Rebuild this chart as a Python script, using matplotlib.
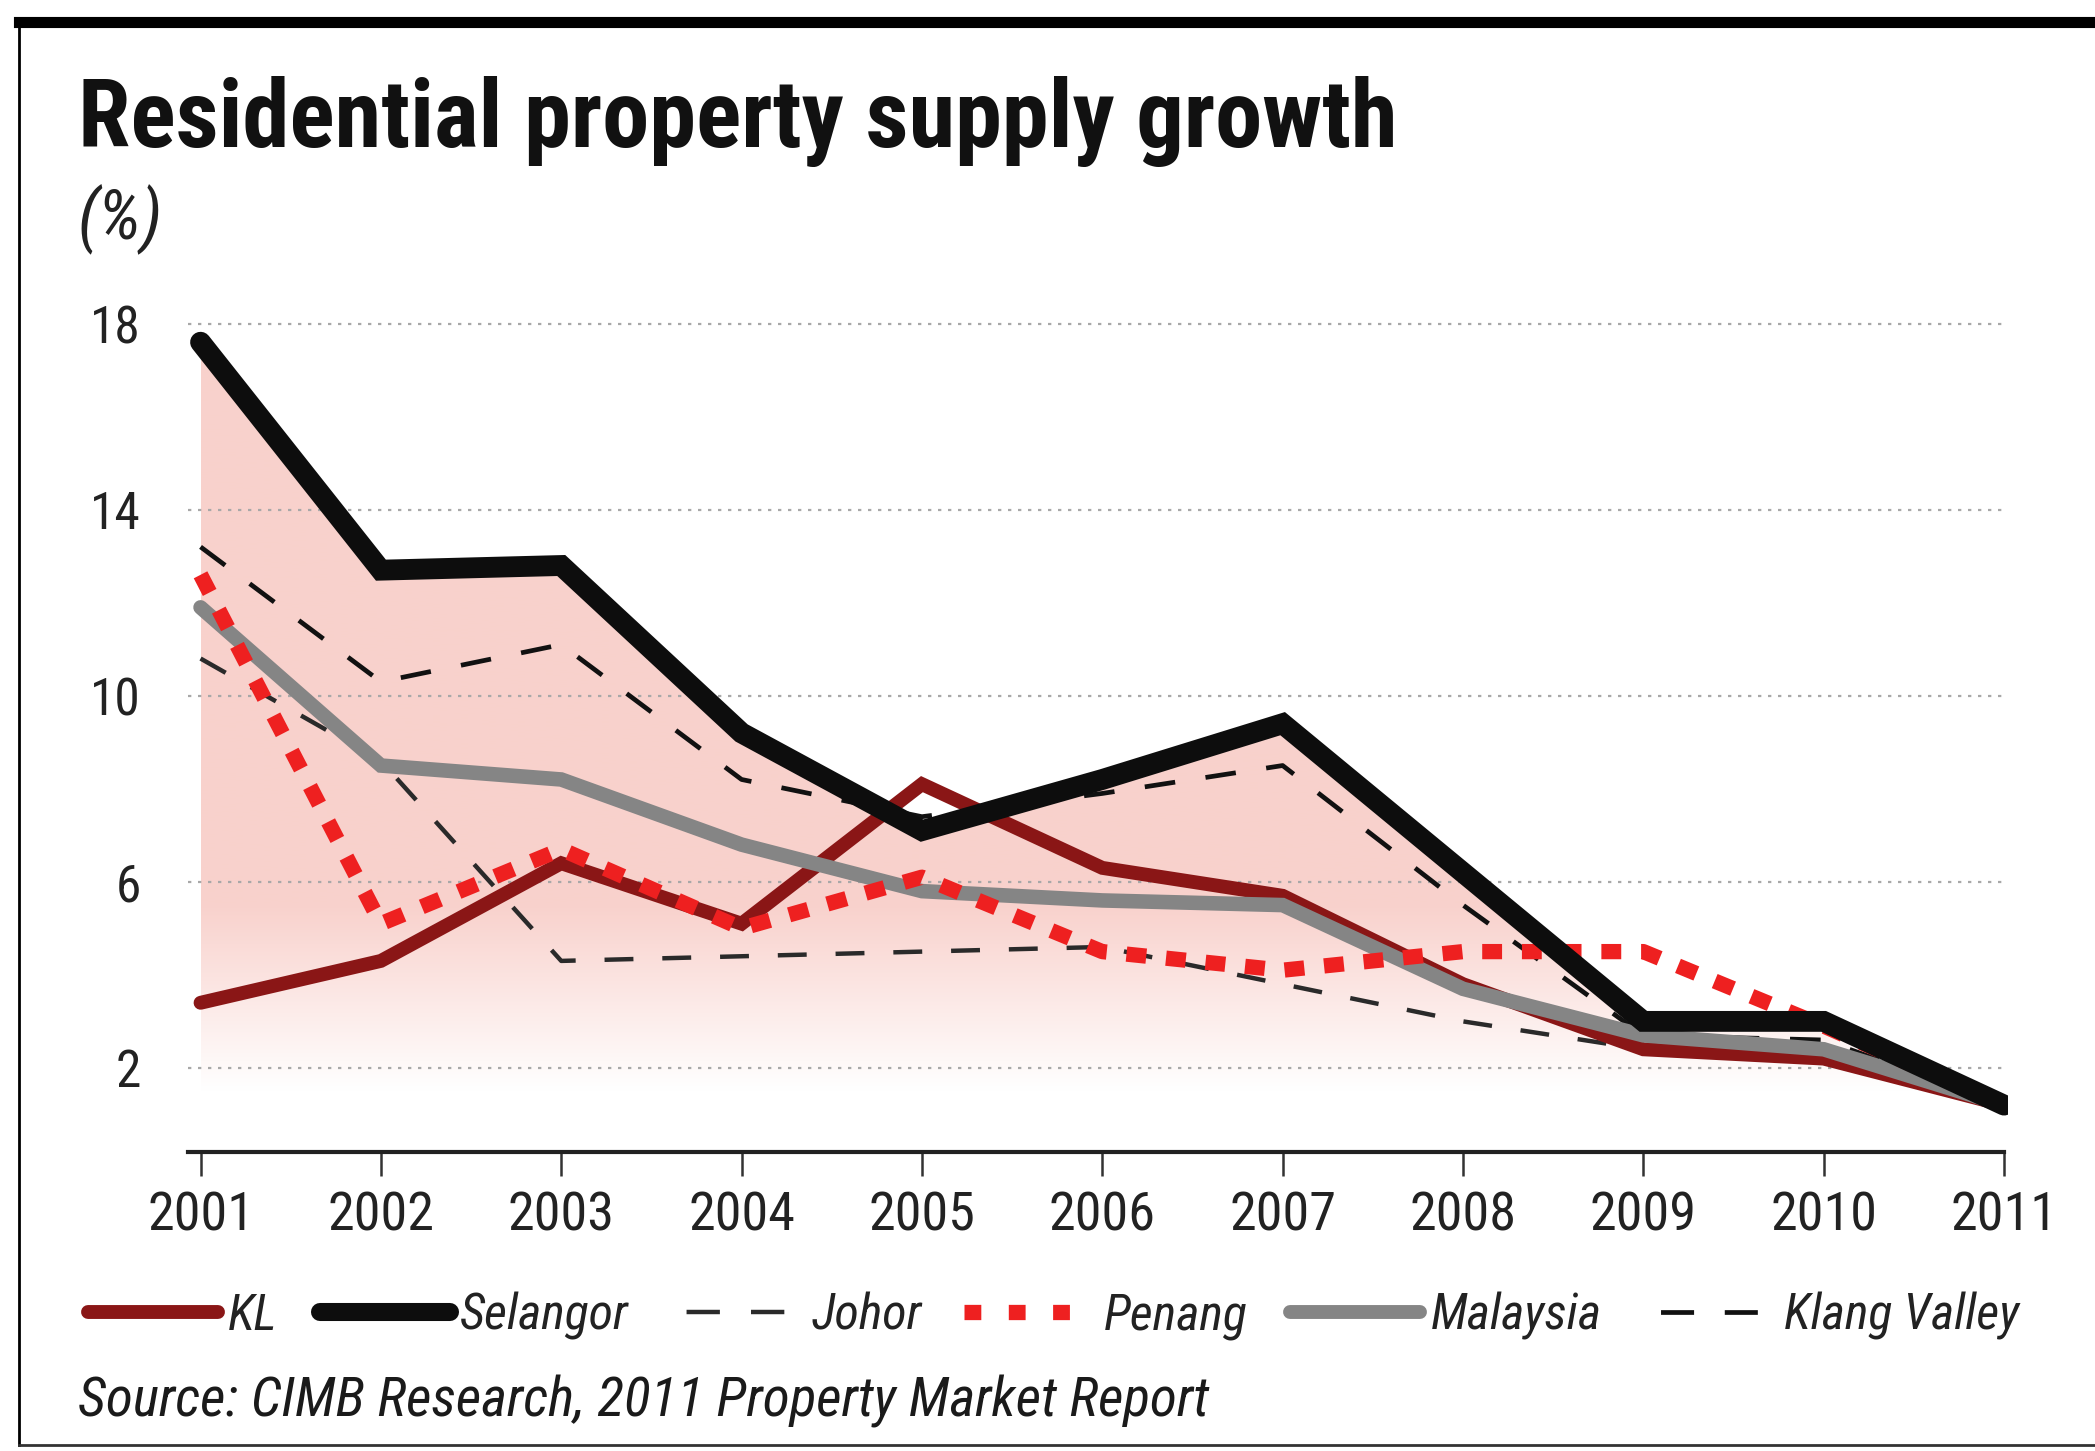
import numpy as np
import matplotlib
matplotlib.use('Agg')
import matplotlib.pyplot as plt
from matplotlib.lines import Line2D
from matplotlib.patches import Polygon

# data (%)
years = [2001, 2002, 2003, 2004, 2005, 2006, 2007, 2008, 2009, 2010, 2011]
kl = [3.4, 4.3, 6.4, 5.1, 8.1, 6.3, 5.7, 3.8, 2.4, 2.2, 1.2]
selangor = [17.6, 12.7, 12.8, 9.2, 7.1, 8.2, 9.4, 6.2, 3.0, 3.0, 1.2]
johor = [10.8, 8.6, 4.3, 4.4, 4.5, 4.6, 3.8, 3.0, 2.4, 2.2, 1.2]
penang = [12.6, 5.1, 6.7, 5.0, 6.1, 4.5, 4.1, 4.5, 4.5, 2.9, 1.2]
malaysia = [11.9, 8.5, 8.2, 6.8, 5.8, 5.6, 5.5, 3.7, 2.7, 2.4, 1.2]
klang_valley = [13.2, 10.3, 11.1, 8.2, 7.4, 7.9, 8.5, 5.5, 2.7, 2.6, 1.2]
y_ticks = [2, 6, 10, 14, 18]

FONT = ['Roboto Condensed', 'Roboto', 'DejaVu Sans']
plt.rcParams['font.family'] = FONT


def main():
    fig = plt.figure(figsize=(20.95, 14.51), dpi=100)
    ax = fig.add_axes([0.0897, 0.206, 0.8686, 0.587])
    ax.set_xlim(2000.93, 2011.02)
    ax.set_ylim(0.19, 18.5)

    # pink shaded area under Selangor, fading to white at the bottom
    base = 1.0
    verts = list(zip(years, selangor)) + [(years[-1], base), (years[0], base)]
    poly = Polygon(verts, closed=True, facecolor='none', edgecolor='none')
    ax.add_patch(poly)
    yy = np.linspace(18, base, 400)
    t = np.clip((yy - 1.5) / 4.0, 0, 1)[:, None]
    pink = np.array([0.975, 0.82, 0.80])
    grad = (1 - t) * np.ones(3) + t * pink
    img = ax.imshow(grad[:, None, :], extent=[years[0], years[-1], base, 18],
                    aspect='auto', zorder=1, interpolation='bilinear')
    img.set_clip_path(poly)

    # dotted gridlines
    ax.hlines(y_ticks, 2000.93, 2011, colors='#a8a8a8', linestyles=(0, (1.5, 3)),
              linewidth=1.6, zorder=2)

    ax.plot(years, johor, color='#2a2a2a', lw=3.2, ls=(0, (6.5, 6.5)), zorder=3)
    ax.plot(years, klang_valley, color='#111111', lw=3.4, ls=(0, (6.5, 6.5)), zorder=3)
    ax.plot(years, kl, color='#8a1616', lw=10, solid_capstyle='round',
            solid_joinstyle='miter', zorder=4)
    ax.plot(years, malaysia, color='#858585', lw=10.5, solid_capstyle='round',
            solid_joinstyle='miter', zorder=5)
    ax.plot(years, penang, color='#ee2020', lw=11, ls=(0, (1.3, 1.3)),
            dash_capstyle='butt', zorder=6)
    ax.plot(years, selangor, color='#0d0d0d', lw=15, solid_capstyle='round',
            solid_joinstyle='miter', zorder=7)

    # axes styling
    for s in ['top', 'right', 'left']:
        ax.spines[s].set_visible(False)
    ax.spines['bottom'].set_linewidth(3)
    ax.spines['bottom'].set_color('#222222')
    ax.spines['bottom'].set_bounds(2000.93, 2011)
    ax.set_xticks(years)
    ax.set_yticks(y_ticks)
    ax.tick_params(axis='x', direction='out', length=17, width=1.8, colors='#333333',
                   labelsize=39, pad=11, labelcolor='#222222')
    ax.tick_params(axis='y', length=0, labelsize=37, pad=34, labelcolor='#222222')
    ax.patch.set_visible(False)

    # titles
    fig.text(0.037, 0.899, 'Residential property supply growth', fontsize=68,
             fontweight='bold', color='#111111', va='baseline')
    fig.text(0.037, 0.836, '(%)', fontsize=50, fontstyle='italic', color='#222222',
             va='baseline')

    handles = [
        Line2D([], [], color='#8a1616', lw=10, solid_capstyle='round'),
        Line2D([], [], color='#0d0d0d', lw=13, solid_capstyle='round'),
        Line2D([], [], color='#2a2a2a', lw=3.2, ls=(11, (7.5, 7))),
        Line2D([], [], color='#ee2020', lw=11, ls=(0, (1.1, 1.8)), dash_capstyle='butt'),
        Line2D([], [], color='#858585', lw=10, solid_capstyle='round'),
        Line2D([], [], color='#111111', lw=3.4, ls=(10, (7, 6.5))),
    ]
    labels = ['KL', 'Selangor', 'Johor', 'Penang', 'Malaysia', 'Klang Valley']
    leg = fig.legend(handles, labels, loc='center left', bbox_to_anchor=(0.042, 0.093),
                     ncol=6, frameon=False, handlelength=2.6, handletextpad=0.2,
                     columnspacing=0.85, borderaxespad=0, borderpad=0,
                     prop={'size': 36, 'style': 'italic', 'family': FONT})
    for txt in leg.get_texts():
        txt.set_color('#222222')

    fig.text(0.037, 0.024, 'Source: CIMB Research, 2011 Property Market Report',
             fontsize=40, fontstyle='italic', color='#1a1a1a', va='baseline')

    # frame around the graphic
    fig.add_artist(Line2D([0.009, 1.0], [0.985, 0.985], color='black', lw=8))
    fig.add_artist(Line2D([0.009, 0.009], [0.004, 0.985], color='black', lw=2))
    fig.add_artist(Line2D([0.009, 1.0], [0.004, 0.004], color='#333333', lw=2))

    fig.savefig('out.png', dpi=100, facecolor='white')


if __name__ == "__main__":
    main()
